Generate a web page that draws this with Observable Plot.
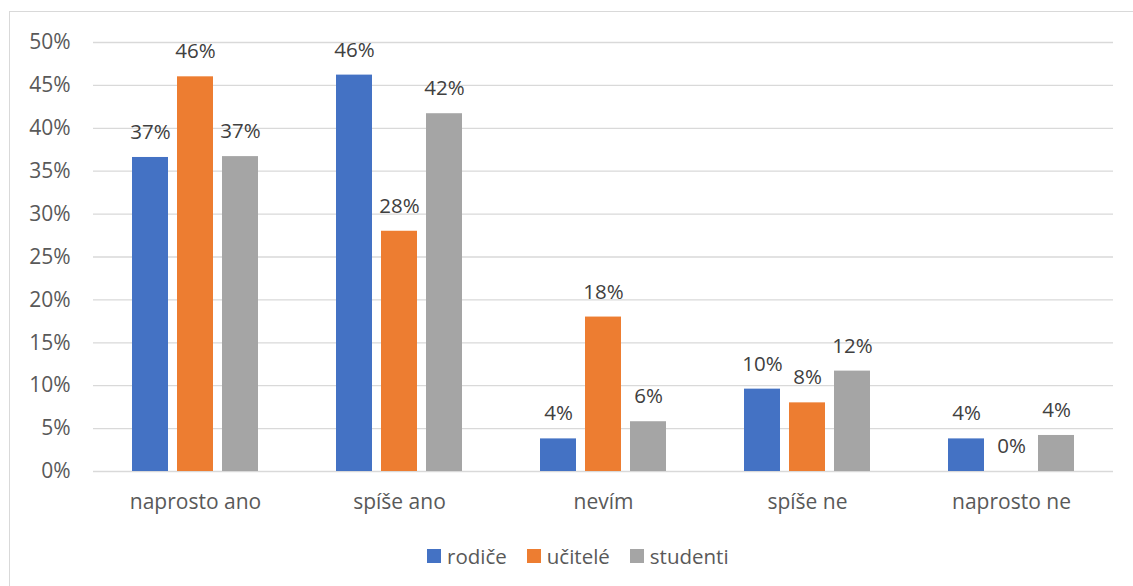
<!DOCTYPE html>
<html>
<head>
<meta charset="utf-8">
<script src="https://cdn.jsdelivr.net/npm/d3@7"></script>
<script src="https://cdn.jsdelivr.net/npm/@observablehq/plot@0.6"></script>
<style>
  html, body { margin: 0; padding: 0; background: #fff; overflow: hidden; }
  #wrap { position: relative; width: 1133px; height: 586px; }
  #frame { position: absolute; left: 9px; top: 11px; width: 1140px; height: 600px; border: 1.3px solid #d9d9d9; box-sizing: border-box; pointer-events: none; }
  #legend { display: flex; align-items: center; margin-top: 22px; padding-left: 427px; height: 28px;
            font-family: "Open Sans", sans-serif; font-size: 20.5px; color: #595959; }
  #legend .item { display: flex; align-items: center; margin-right: 20px; }
  #legend .sw { width: 14px; height: 14px; margin-right: 6px; }
</style>
</head>
<body>
<div id="wrap"><div id="frame"></div><div id="chart"></div><div id="legend"></div></div>
<script>
const categories = ["naprosto ano", "spíše ano", "nevím", "spíše ne", "naprosto ne"];
const series = ["rodiče", "učitelé", "studenti"];
const colors = ["#4472C4", "#ED7D31", "#A5A5A5"];
const rodice = [36.6, 46.2, 3.8, 9.6, 3.8];
const ucitele = [46.0, 28.0, 18.0, 8.0, 0];
const studenti = [36.7, 41.7, 5.8, 11.7, 4.2];
const yTicks = [0, 5, 10, 15, 20, 25, 30, 35, 40, 45, 50];

const values = [rodice, ucitele, studenti];
const rows = [];
categories.forEach((c, i) => {
  series.forEach((s, j) => rows.push({category: c, series: s, value: values[j][i]}));
});

const chart = Plot.plot({
  width: 1133,
  height: 520,
  marginLeft: 91,
  marginRight: 19,
  marginTop: 42,
  marginBottom: 49,
  style: {fontFamily: "Open Sans, sans-serif", fontSize: "21px", color: "#595959", background: "transparent"},
  fx: {domain: categories, padding: 0, label: null, axis: "bottom", tickSize: 0, tickPadding: 23},
  x: {domain: series, paddingInner: 0.21, paddingOuter: 0.853, axis: null},
  y: {domain: [0, 50], ticks: yTicks, tickFormat: d => d + "%", label: null, tickSize: 0, tickPadding: 23},
  color: {domain: series, range: colors},
  marks: [
    Plot.gridY(yTicks, {stroke: "#d9d9d9", strokeOpacity: 1, strokeWidth: 1.3}),
    Plot.barY(rows, {fx: "category", x: "series", y: "value", fill: "series"}),
    Plot.text(rows, {fx: "category", x: "series", y: "value", text: d => Math.round(d.value) + "%", dy: -25, fill: "#404040", fontSize: 20.5})
  ]
});
document.getElementById("chart").appendChild(chart);

const legend = document.getElementById("legend");
series.forEach((s, j) => {
  const item = document.createElement("div");
  item.className = "item";
  const sw = document.createElement("div");
  sw.className = "sw";
  sw.style.background = colors[j];
  const t = document.createElement("span");
  t.textContent = s;
  item.appendChild(sw); item.appendChild(t);
  legend.appendChild(item);
});
</script>
</body>
</html>
